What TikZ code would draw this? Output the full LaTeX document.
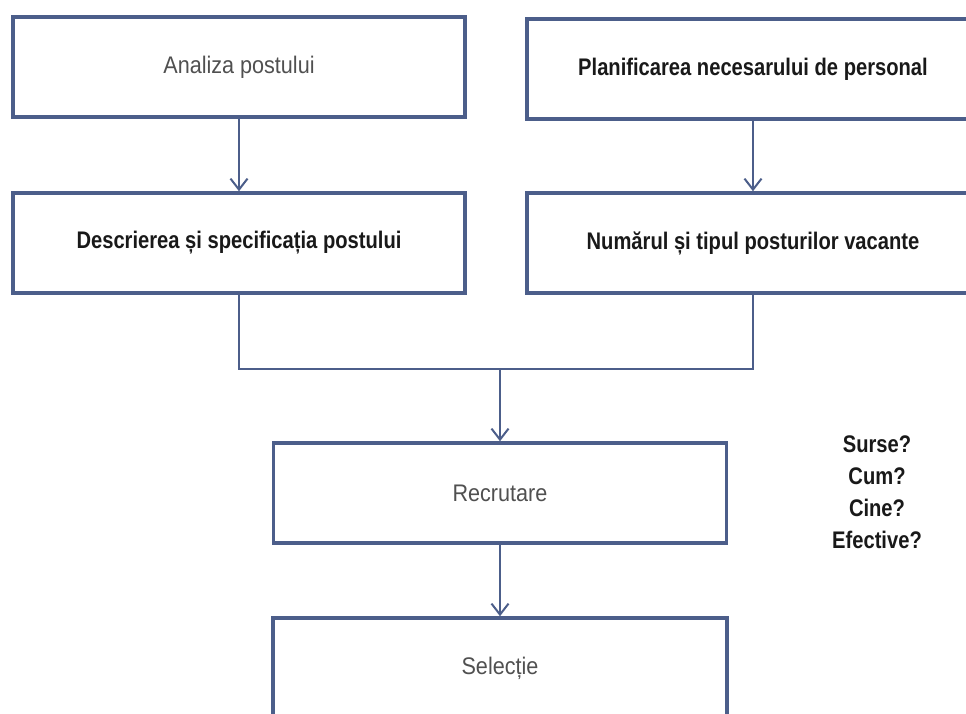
\documentclass[tikz,border=0pt]{standalone}
\usepackage{fontspec}
\setmainfont{Liberation Sans}[FakeStretch=0.9]
\newfontfamily\darkfont{Liberation Sans}[FakeStretch=0.84]
\usepackage{tikz}
\usetikzlibrary{positioning}
\usetikzlibrary{arrows.meta}
\definecolor{linecol}{RGB}{76,94,138}
\definecolor{greytext}{RGB}{80,80,80}
\definecolor{darktext}{RGB}{25,25,25}
\tikzset{
	every node/.style = {font=\fontsize{24}{32}\selectfont},
	box/.style = {draw=linecol, line width=3.5pt, minimum width=452pt, minimum height=100pt, inner sep=0pt},
	greybox/.style = {box, text=greytext},
	darkbox/.style = {box, text=darktext, font=\fontsize{24}{32}\selectfont\darkfont\bfseries},
	link/.style = {draw=linecol, line width=2pt},
	arrow/.style = {link, -{Straight Barb[length=11pt,width=17pt]}}
}

\begin{document}
\begin{tikzpicture}[x=1pt, y=-1pt]
		\useasboundingbox (0,0) rectangle (966,714);
		\clip (0,0) rectangle (966,714);
		% top row
		\node[greybox] (analiza) at (239,67) {Analiza postului};
		\node[darkbox] (planif) at (753,69) {Planificarea necesarului de personal};
		% second row
		\node[darkbox] (descr) at (239,243) {Descrierea și specificația postului};
		\node[darkbox] (numar) at (753,243) {Numărul și tipul posturilor vacante};
		% bottom
		\node[greybox, minimum width=453pt] (recr) at (500,493) {Recrutare};
		\node[greybox, minimum width=454pt] (sel) at (500,668) {Selecție};
		\node[align=center, text=darktext, font=\fontsize{24}{32}\selectfont\darkfont\bfseries] (intreb) at (877,492) {Surse?\\Cum?\\Cine?\\Efective?};
		
		\coordinate (join) at (500,369);
		\draw[arrow] (analiza) -- (descr);
		\draw[arrow] (planif) -- (numar);
		\draw[link] (descr.south) |- (join) -| (numar.south);
		\draw[arrow] (join) -- (recr.north);
		\draw[arrow] (recr) -- (sel);
	\end{tikzpicture}
\end{document}
